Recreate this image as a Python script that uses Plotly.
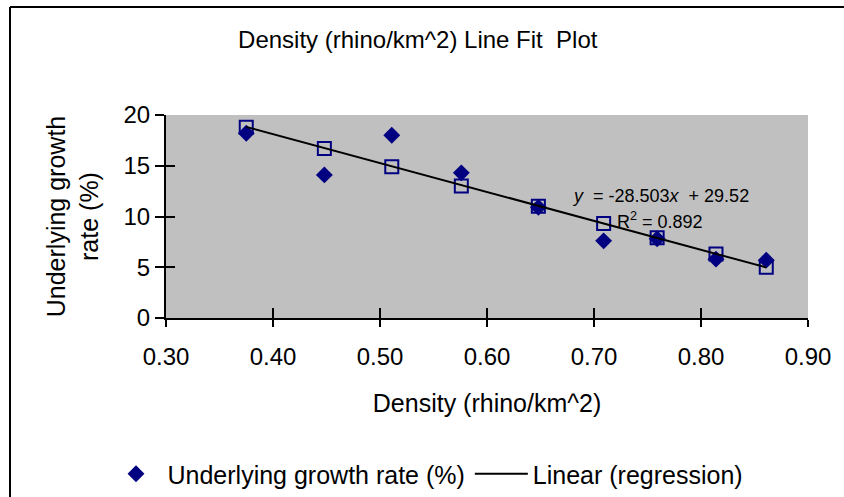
import plotly.graph_objects as go

# Data
density = [0.375, 0.448, 0.511, 0.576, 0.648, 0.709, 0.759, 0.814, 0.861]
growth_rate = [18.2, 14.1, 18.0, 14.3, 10.9, 7.6, 7.8, 5.8, 5.7]
predicted_rate = [18.8, 16.7, 14.9, 13.0, 11.0, 9.3, 7.9, 6.3, 5.0]
trend_x = [0.375, 0.861]
trend_y = [18.83, 4.98]
x_ticks = [0.30, 0.40, 0.50, 0.60, 0.70, 0.80, 0.90]
y_ticks = [0, 5, 10, 15, 20]

NAVY = "#000080"
FONT = "Liberation Sans, Arial, sans-serif"

fig = go.Figure()
fig.add_trace(go.Scatter(
    x=density, y=growth_rate, mode="markers",
    name="Underlying growth rate (%)",
    marker=dict(symbol="diamond", size=13, color=NAVY),
))
fig.add_trace(go.Scatter(
    x=density, y=predicted_rate, mode="markers",
    name="Predicted Underlying growth rate (%)", showlegend=False,
    marker=dict(symbol="square-open", size=13, color=NAVY, line=dict(width=2, color=NAVY)),
))
fig.add_trace(go.Scatter(
    x=trend_x, y=trend_y, mode="lines",
    name="Linear (regression)",
    line=dict(color="black", width=2),
))
# invisible trace on the overlay axes (for crossing ticks)
fig.add_trace(go.Scatter(x=[0.3], y=[0], xaxis="x2", yaxis="y2", mode="markers",
                         marker=dict(opacity=0), showlegend=False, hoverinfo="skip"))

fig.update_layout(
    width=844, height=497,
    margin=dict(l=166, r=36, t=115, b=179),
    paper_bgcolor="white", plot_bgcolor="#C0C0C0",
    font=dict(family=FONT, size=24, color="black"),
    showlegend=True,
    title=dict(text="Density (rhino/km^2) Line Fit  Plot", x=0.495, xanchor="center",
               y=1 - 40 / 497, yanchor="middle", xref="container", yref="container",
               font=dict(size=24)),
    xaxis=dict(range=[0.3, 0.9], tickvals=x_ticks, tickformat=".2f",
               showgrid=False, zeroline=False, showline=True, linecolor="black", linewidth=2,
               ticks="outside", ticklen=7, tickwidth=2, tickcolor="black",
               tickfont=dict(size=24), ticklabelstandoff=9, automargin=False,
               title=dict(text="Density (rhino/km^2)", font=dict(size=25), standoff=26)),
    yaxis=dict(range=[0, 20], tickvals=y_ticks,
               showgrid=False, zeroline=False, showline=True, linecolor="black", linewidth=2,
               ticks="outside", ticklen=9, tickwidth=2, tickcolor="black",
               tickfont=dict(size=24), automargin=False,
               title=dict(text="Underlying growth<br>rate (%)", font=dict(size=25), standoff=18)),
    xaxis2=dict(overlaying="x", anchor="y", range=[0.3, 0.9], tickvals=x_ticks,
                showticklabels=False, showgrid=False, zeroline=False, showline=False,
                ticks="inside", ticklen=10, tickwidth=2, tickcolor="black"),
    yaxis2=dict(overlaying="y", anchor="x", range=[0, 20], tickvals=y_ticks,
                showticklabels=False, showgrid=False, zeroline=False, showline=False,
                ticks="inside", ticklen=9, tickwidth=2, tickcolor="black"),
    legend=dict(orientation="h", x=104.5 / 844, xanchor="left", xref="container",
                y=1 - 474 / 497, yanchor="middle", yref="container",
                bgcolor="rgba(0,0,0,0)", font=dict(size=25), traceorder="normal",
                itemwidth=53),
)

fig.add_annotation(x=0.7617, y=12.0, xref="x", yref="y", showarrow=False,
                   text="<i>y</i>  = -28.503<i>x</i>  + 29.52", font=dict(size=18))
fig.add_annotation(x=0.7617, y=9.6, xref="x", yref="y", showarrow=False,
                   text="R<sup>2</sup> = 0.892", font=dict(size=18))

# outer chart border: only its left and top edges fall inside the picture
fig.add_shape(type="line", xref="paper", yref="paper",
              x0=(10 - 166) / 642, x1=(10 - 166) / 642,
              y0=(318 - 520) / 203, y1=(318 - 7) / 203,
              line=dict(color="black", width=2), layer="below")
fig.add_shape(type="line", xref="paper", yref="paper",
              x0=(10 - 166) / 642, x1=(900 - 166) / 642,
              y0=(318 - 7) / 203, y1=(318 - 7) / 203,
              line=dict(color="black", width=2), layer="below")

fig.write_html(
    "out.html", config={"displayModeBar": False},
    post_script=("document.body.style.margin='0px';"
                 "document.body.style.overflow='hidden';"
                 "document.documentElement.style.overflow='hidden';"),
)
